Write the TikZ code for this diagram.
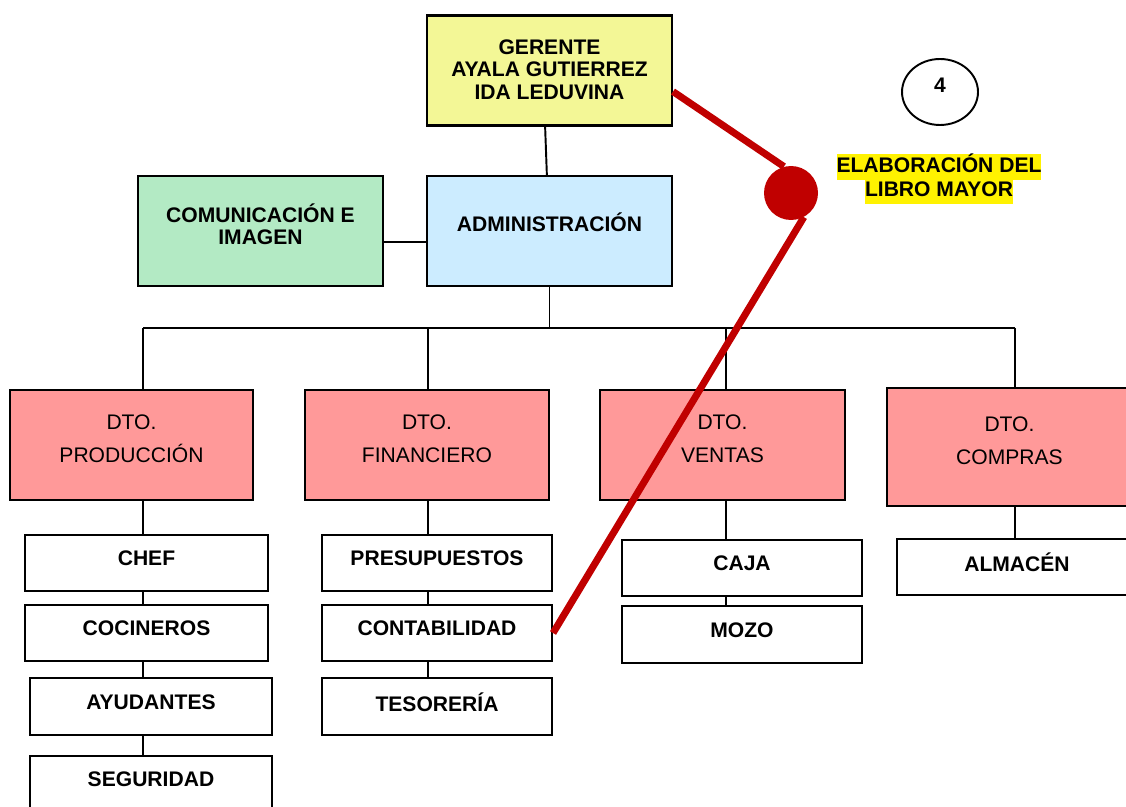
\documentclass[tikz,border=0pt]{standalone}
\usepackage{fontspec}
\setmainfont{Liberation Sans}
\usetikzlibrary{shapes.geometric}
\definecolor{gerfill}{RGB}{243,247,150}
\definecolor{admfill}{RGB}{204,236,255}
\definecolor{comfill}{RGB}{179,234,196}
\definecolor{deptfill}{RGB}{255,153,153}
\definecolor{markred}{RGB}{192,0,0}
\newcommand{\hlt}[1]{{\setlength{\fboxsep}{0pt}\colorbox{yellow}{\strut #1}}}

\begin{document}
\begin{tikzpicture}[x=0.02cm, y=-0.02cm,
	box/.style={draw, line width=1.2pt, inner sep=0pt, minimum width=4.9cm, minimum height=2.2cm},
	dept/.style={box, fill=deptfill},
	sub/.style={draw, line width=1.2pt, inner sep=0pt, minimum height=1.12cm},
	boldtxt/.style={font=\fontsize{12}{12.75}\selectfont\bfseries, align=center},
	txtb/.style={boldtxt, anchor=center, yshift=2.6pt},
	txtr/.style={font=\fontsize{12}{18.7}\selectfont, align=center, anchor=center, yshift=3.7pt},
	link/.style={line width=1.1pt},
	redline/.style={draw=markred, line width=4pt}]
	\useasboundingbox (0,0) rectangle (1126,807);
	% cabecera
	\node[box, fill=gerfill, label={[txtb, yshift=-2pt]center:GERENTE\\AYALA GUTIERREZ\\IDA LEDUVINA}] (ger) at (549.5,70.5) {};
	\node[box, fill=admfill, label={[txtb, yshift=2.4pt]center:ADMINISTRACIÓN}] (adm) at (549.5,231) {};
	\node[box, fill=comfill, label={[txtb, yshift=1.4pt]center:COMUNICACIÓN E\\IMAGEN}] (com) at (260.5,231) {};
	% departamentos
	\node[dept, minimum width=4.86cm, label={[txtr]center:DTO.\\PRODUCCIÓN}] (prod) at (131.5,445) {};
	\node[dept, minimum width=4.88cm, label={[txtr]center:DTO.\\FINANCIERO}] (fin) at (427,445) {};
	\node[dept, label={[txtr]center:DTO.\\VENTAS}] (ven) at (722.5,445) {};
	\node[dept, minimum height=2.36cm, label={[txtr]center:DTO.\\COMPRAS}] (cmp) at (1009.5,447) {};
	% puestos
	\node[sub, minimum width=4.86cm, label={[txtb]center:CHEF}] (chef) at (146.5,563) {};
	\node[sub, minimum width=4.86cm, label={[txtb]center:COCINEROS}] (coc) at (146.5,633) {};
	\node[sub, minimum width=4.84cm, minimum height=1.14cm, label={[txtb]center:AYUDANTES}] (ayu) at (151,706.5) {};
	\node[sub, minimum width=4.84cm, label={[txtb]center:SEGURIDAD}] (seg) at (151,784) {};
	\node[sub, minimum width=4.6cm, label={[txtb]center:PRESUPUESTOS}] (pre) at (437,563) {};
	\node[sub, minimum width=4.6cm, label={[txtb]center:CONTABILIDAD}] (con) at (437,633) {};
	\node[sub, minimum width=4.6cm, minimum height=1.14cm, label={[txtb]center:TESORERÍA}] (tes) at (437,706.5) {};
	\node[sub, minimum width=4.8cm, label={[txtb]center:CAJA}] (caja) at (742,568) {};
	\node[sub, minimum width=4.8cm, minimum height=1.14cm, label={[txtb]center:MOZO}] (mozo) at (742,634.5) {};
	\node[sub, minimum width=4.8cm, label={[txtb]center:ALMACÉN}] (alm) at (1017,567) {};
	% lineas
	\coordinate (c1) at (143,328);
	\coordinate (c2) at (428,328);
	\coordinate (c3) at (726,328);
	\coordinate (c4) at (1015,328);
	\draw[link] ([xshift=-2.5pt]ger.south) -- ([xshift=-1.5pt]adm.north);
	\draw[link] ([yshift=-6pt]com.east) -- ([yshift=-6pt]adm.west);
	\draw[link] (adm.south) -- (adm.south |- c1);
	\draw[link] (c1) -- (c4);
	\foreach \col/\d in {c1/prod, c2/fin, c3/ven, c4/cmp}
		\draw[link] (\col) -- (\col |- \d.north);
	\foreach \col/\a/\b in {c1/prod/chef, c1/chef/coc, c1/coc/ayu, c1/ayu/seg, c2/fin/pre, c2/pre/con, c2/con/tes, c3/ven/caja, c3/caja/mozo, c4/cmp/alm}
		\draw[link] (\col |- \a.south) -- (\col |- \b.north);
	% marca
	\node[circle, fill=markred, minimum size=1.08cm, inner sep=0pt] (mark) at (791,193) {};
	\draw[redline] ([yshift=-12pt]ger.east) -- (mark.105);
	\draw[redline] (mark.298) -- (con.east);
	\node[ellipse, draw, line width=1.1pt, minimum width=1.52cm, minimum height=1.32cm, inner sep=0pt, label={[txtb, yshift=1.4pt]center:4}] (num) at (940,92) {};
	\node[boldtxt, font=\fontsize{12}{14}\selectfont\bfseries] (task) at (939,179) {\hlt{ELABORACIÓN DEL}\\\hlt{LIBRO MAYOR}};
\end{tikzpicture}
\end{document}
